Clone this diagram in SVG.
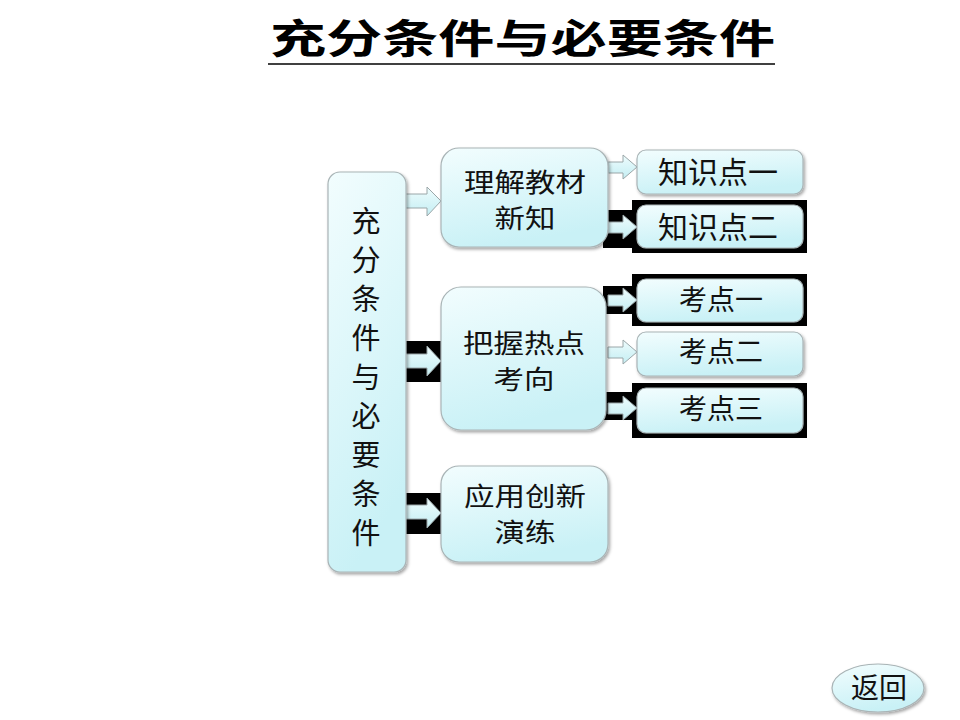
<svg xmlns="http://www.w3.org/2000/svg" width="960" height="720" viewBox="0 0 960 720">
<defs>
<linearGradient id="g" x1="0" y1="0" x2="0.3" y2="1">
<stop offset="0" stop-color="#f2fdfe"/>
<stop offset="1" stop-color="#c9f1f6"/>
</linearGradient>
<linearGradient id="ga" x1="0" y1="0" x2="0" y2="1">
<stop offset="0" stop-color="#eefcfd"/>
<stop offset="1" stop-color="#c4eef3"/>
</linearGradient>
<filter id="sh" x="-10%" y="-10%" width="125%" height="130%">
<feDropShadow dx="1.5" dy="2" stdDeviation="1.5" flood-color="#000" flood-opacity="0.35"/>
</filter>
</defs>
<style>
.box{fill:url(#g);stroke:#a9b4b6;stroke-width:1.2;filter:url(#sh)}
.arr{fill:url(#ga);stroke:#9aa6a8;stroke-width:1}
.blk{fill:#000}
.t{font-family:"Noto Sans CJK SC","Noto Sans CJK JP",sans-serif;font-size:30px;fill:#111;text-anchor:middle}
.v{font-size:29px}
.m{font-size:26px}
.s{font-size:28px}
.title{font-family:"Noto Sans CJK SC",sans-serif;font-weight:bold;font-size:40px;fill:#000}
</style>
<rect width="960" height="720" fill="#fff"/>
<g id="title">
<text class="title" x="270" y="53" textLength="505" lengthAdjust="spacingAndGlyphs">充分条件与必要条件</text>
<line x1="268" y1="64" x2="775" y2="64" stroke="#000" stroke-width="1.5"/>
</g>
<g id="connectors">
<rect class="blk" x="400" y="341" width="41" height="41"/>
<rect class="blk" x="400" y="493" width="41" height="41"/>
<rect class="blk" x="603" y="210" width="36" height="38"/>
<rect class="blk" x="632" y="200" width="175" height="53"/>
<rect class="blk" x="603" y="286" width="36" height="28"/>
<rect class="blk" x="632" y="274" width="175" height="52"/>
<rect class="blk" x="603" y="392" width="36" height="28"/>
<rect class="blk" x="632" y="383" width="175" height="55"/>
<path class="arr" d="M403,194 H427 V187 L441,201 L427,216 V208 H403 Z"/>
<path class="arr" d="M403,354 H427 V346 L441,361 L427,376 V368 H403 Z"/>
<path class="arr" d="M403,505 H427 V498 L441,513 L427,528 V519 H403 Z"/>
<path class="arr" d="M608,162 H623 V155 L637,167 L623,179 V173 H608 Z"/>
<path class="arr" d="M608,222 H623 V215 L637,227 L623,239 V233 H608 Z"/>
<path class="arr" d="M608,295 H623 V288 L637,300 L623,312 V306 H608 Z"/>
<path class="arr" d="M608,347 H623 V340 L637,352 L623,364 V358 H608 Z"/>
<path class="arr" d="M608,403 H623 V396 L637,408 L623,420 V414 H608 Z"/>
</g>
<g id="root">
<rect class="box" x="328" y="172" width="78" height="400" rx="12"/>
<text class="t v"><tspan x="366" y="232">充</tspan><tspan x="366" y="271">分</tspan><tspan x="366" y="310">条</tspan><tspan x="366" y="349">件</tspan><tspan x="366" y="388">与</tspan><tspan x="366" y="427">必</tspan><tspan x="366" y="466">要</tspan><tspan x="366" y="505">条</tspan><tspan x="366" y="544">件</tspan></text>
</g>
<g id="n1">
<rect class="box" x="441" y="148" width="167" height="99" rx="18"/>
<text class="t m" x="525" y="192" textLength="122" lengthAdjust="spacingAndGlyphs">理解教材</text>
<text class="t m" x="525" y="228" textLength="61" lengthAdjust="spacingAndGlyphs">新知</text>
</g>
<g id="n2">
<rect class="box" x="441" y="287" width="165" height="143" rx="20"/>
<text class="t m" x="524" y="353" textLength="122" lengthAdjust="spacingAndGlyphs">把握热点</text>
<text class="t m" x="524" y="389" textLength="61" lengthAdjust="spacingAndGlyphs">考向</text>
</g>
<g id="n3">
<rect class="box" x="441" y="466" width="167" height="96" rx="18"/>
<text class="t m" x="525" y="506" textLength="122" lengthAdjust="spacingAndGlyphs">应用创新</text>
<text class="t m" x="525" y="542" textLength="61" lengthAdjust="spacingAndGlyphs">演练</text>
</g>
<g id="k1">
<rect class="box" x="637" y="150" width="166" height="44" rx="9"/>
<text class="t" x="718" y="183">知识点一</text>
</g>
<g id="k2">
<rect class="box" x="637" y="205" width="166" height="43" rx="9"/>
<text class="t" x="718" y="238">知识点二</text>
</g>
<g id="p1">
<rect class="box" x="637" y="279" width="166" height="43" rx="9"/>
<text class="t s" x="721" y="310">考点一</text>
</g>
<g id="p2">
<rect class="box" x="637" y="332" width="166" height="44" rx="9"/>
<text class="t s" x="721" y="362">考点二</text>
</g>
<g id="p3">
<rect class="box" x="637" y="388" width="166" height="45" rx="9"/>
<text class="t s" x="721" y="419">考点三</text>
</g>
<g id="back">
<ellipse class="box" cx="878" cy="688" rx="46" ry="24"/>
<text class="t s" x="879" y="698">返回</text>
</g>
</svg>
